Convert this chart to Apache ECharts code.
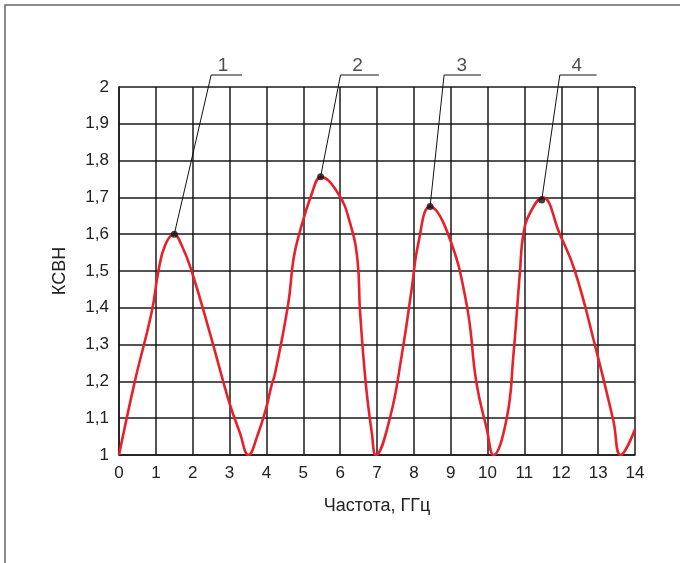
<!DOCTYPE html>
<html><head><meta charset="utf-8">
<script src="https://cdn.jsdelivr.net/npm/echarts@6/dist/echarts.min.js"></script>
<style>html,body{margin:0;padding:0;background:#fff}#c{width:680px;height:563px}</style>
</head><body><div id="c"></div>
<script>
// Frequency (GHz) and VSWR values
var freq = [0, 0.43, 0.89, 1.07, 1.25, 1.49, 1.7, 1.97, 2.47, 2.97, 3.28, 3.51, 3.78, 4.0, 4.14, 4.23, 4.59, 4.73, 4.86, 5.23, 5.48, 5.95, 6.27, 6.47, 6.54, 6.70, 6.86, 6.97, 7.35, 7.67, 7.94, 8.12, 8.44, 8.93, 9.43, 9.70, 9.98, 10.16, 10.52, 10.70, 10.88, 10.97, 11.15, 11.49, 11.96, 12.37, 12.91, 13.41, 13.61, 14.0];
var vswr = [1.0, 1.2, 1.39, 1.5, 1.57, 1.6, 1.57, 1.5, 1.33, 1.15, 1.06, 1.0, 1.06, 1.13, 1.19, 1.22, 1.41, 1.53, 1.59, 1.71, 1.755, 1.71, 1.63, 1.53, 1.39, 1.19, 1.06, 1.0, 1.1, 1.27, 1.45, 1.575, 1.675, 1.6, 1.41, 1.195, 1.07, 1.0, 1.1, 1.27, 1.5, 1.6, 1.657, 1.70, 1.6, 1.5, 1.3, 1.095, 1.0, 1.07];
// Numbered peak callouts
var peakNames = ['1', '2', '3', '4'];
var peakX = [1.50, 5.47, 8.44, 11.47];
var peakY = [1.60, 1.756, 1.675, 1.693];
var leaderTopX = [2.50, 6.01, 8.82, 11.96];
var leaderEndX = [3.34, 7.05, 9.82, 12.96];
var leaderY = 2.0326;
var labelX = [2.82, 6.47, 9.30, 12.42];
var labelY = 2.057;
// Axis ticks
var xMin = 0, xMax = 14, xStep = 1;
var yMin = 1, yMax = 2, yStep = 0.1;

var FONT = 'Liberation Sans';
var curve = freq.map(function (f, i) { return [f, vswr[i]]; });
var series = [{
  type: 'line', data: curve, smooth: 0.45, showSymbol: false,
  lineStyle: { color: '#e8202a', width: 2.6 }, z: 3
}];
peakNames.forEach(function (n, i) {
  series.push({
    type: 'line', clip: false, showSymbol: false, silent: true,
    data: [[peakX[i], peakY[i]], [leaderTopX[i], leaderY], [leaderEndX[i], leaderY]],
    lineStyle: { color: '#111', width: 1 }, z: 4
  });
});
series.push({
  type: 'scatter', clip: false, symbolSize: 7, z: 5,
  itemStyle: { color: '#111' },
  data: peakX.map(function (x, i) { return [x, peakY[i]]; })
});
series.push({
  type: 'scatter', clip: false, symbolSize: 0, z: 5,
  data: peakNames.map(function (n, i) { return { value: [labelX[i], labelY], name: n }; }),
  label: { show: true, position: 'inside', formatter: '{b}', color: '#222', fontFamily: FONT, fontSize: 19 }
});

var chart = echarts.init(document.getElementById('c'));
chart.setOption({
  animation: false,
  backgroundColor: '#fff',
  grid: { left: 119, right: 45, top: 87, bottom: 108 },
  graphic: [{
    type: 'polyline', silent: true,
    shape: { points: [[5, 563], [5, 5], [680, 5]] },
    style: { stroke: '#666', lineWidth: 1.5, fill: null }
  }],
  xAxis: {
    type: 'value', min: xMin, max: xMax, interval: xStep,
    name: 'Частота, ГГц', nameLocation: 'middle', nameGap: 42,
    nameTextStyle: { fontFamily: FONT, fontSize: 18, color: '#222' },
    axisLine: { lineStyle: { color: '#1a1a1a', width: 1.5 } },
    axisTick: { show: false },
    axisLabel: { fontFamily: FONT, fontSize: 17, color: '#222', margin: 10 },
    splitLine: { show: true, lineStyle: { color: '#1a1a1a', width: 1.5 } }
  },
  yAxis: {
    type: 'value', min: yMin, max: yMax, interval: yStep,
    name: 'КСВН', nameLocation: 'middle', nameGap: 50,
    nameTextStyle: { fontFamily: FONT, fontSize: 18, color: '#222' },
    axisLine: { show: true, lineStyle: { color: '#1a1a1a', width: 1.5 } },
    axisTick: { show: false },
    axisLabel: {
      fontFamily: FONT, fontSize: 17, color: '#222', margin: 10,
      formatter: function (v) { return String(+v.toFixed(1)).replace('.', ','); }
    },
    splitLine: { show: true, lineStyle: { color: '#1a1a1a', width: 1.5 } }
  },
  series: series
});
</script></body></html>
